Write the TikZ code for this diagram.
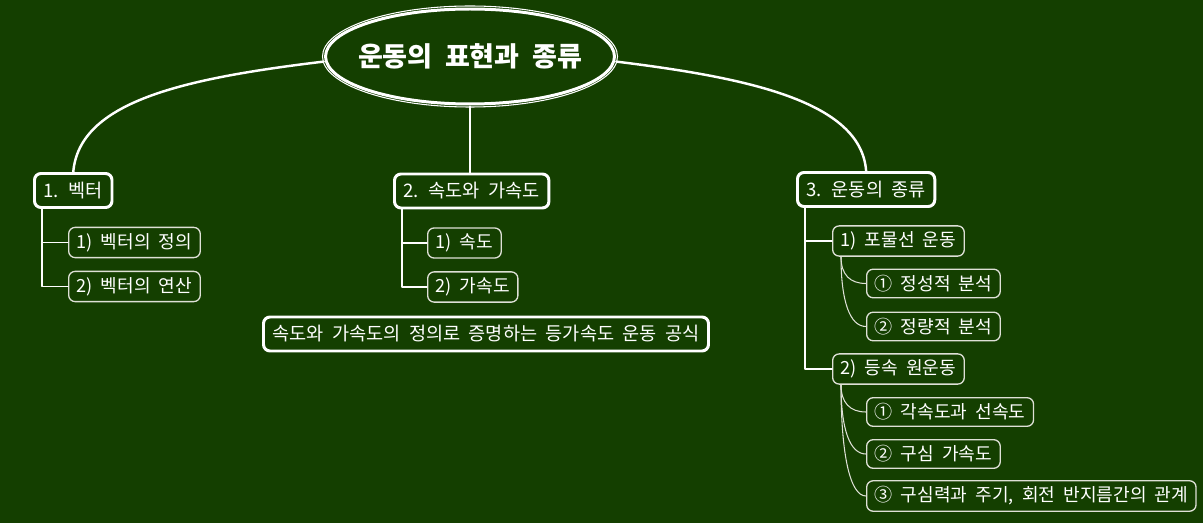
\documentclass[tikz,border=0pt]{standalone}
\usepackage{fontspec}
\newfontfamily\kr[WordSpace=2]{Noto Sans CJK KR}
\usetikzlibrary{shapes.geometric}
\definecolor{board}{RGB}{20,63,0}
\definecolor{chalk}{RGB}{222,224,214}
\begin{document}
\begin{tikzpicture}[x=.02cm,y=-.02cm,line join=round,line cap=round,font=\kr,text=white,
    hub/.style={ellipse,draw=white,line width=1.7pt,minimum width=5.78cm,minimum height=1.9cm,inner sep=0pt,outer sep=1.5pt,font=\kr\fontsize{15.4}{17}\selectfont\bfseries},
    topic/.style={draw=white,line width=1.7pt,rounded corners=.13cm,minimum height=.68cm,inner xsep=.18cm,anchor=west,font=\kr\fontsize{10.6}{12}\selectfont},
    sub/.style={draw=chalk,line width=.75pt,rounded corners=.13cm,minimum height=.52cm,inner xsep=.16cm,anchor=west,font=\kr\fontsize{10.3}{12}\selectfont},
    branch/.style={draw=white,line width=1.4pt},
    twig/.style={draw=white,line width=.8pt},
    vine/.style={draw=chalk,line width=.6pt}]
\fill[board](0,0)rectangle(1203,523);
\node[hub](root)at(470,56.5){\makebox[0pt]{운동의 표현과 종류}};
\draw[white,line width=.6pt](root.center)ellipse[x radius=147.5,y radius=50.5];
\node[topic](t1)at(33,190.5){1. 벡터};
\node[topic](t2)at(393,191){2. 속도와 가속도};
\node[topic](t3)at(796,189.5){3. 운동의 종류};
\node[topic](proof)at(262,334){속도와 가속도의 정의로 증명하는 등가속도 운동 공식};
\node[sub](vdef)at(68,242.5){1) 벡터의 정의};
\node[sub](vop)at(68,286.5){2) 벡터의 연산};
\node[sub](vel)at(427,243){1) 속도};
\node[sub](acc)at(427,287){2) 가속도};
\node[sub](proj)at(832,241){1) 포물선 운동};
\node[sub](circ)at(832,369){2) 등속 원운동};
\node[sub](qual)at(866,283.5){① 정성적 분석};
\node[sub](quant)at(866,326.5){② 정량적 분석};
\node[sub](angv)at(866,412){① 각속도과 선속도};
\node[sub](cent)at(866,454){② 구심 가속도};
\node[sub](force)at(866,496){③ 구심력과 주기, 회전 반지름간의 관계};
\draw[branch](root.182)..controls+(-142,17)and+(6,-70)..(t1.north);
\draw[branch](root.-2)..controls+(130,16)and+(-5,-70)..(t3.north);
\draw[branch](root.south)--(root.south|-t2.north);
\foreach \p/\c in {t1/vdef,t1/vop,t2/vel,t2/acc,t3/proj,t3/circ}
  \draw[twig]([xshift=.18cm]\p.south west)|-(\c.west);
\foreach \p/\c/\h in {proj/qual/18,proj/quant/45,circ/angv/18,circ/cent/45,circ/force/70}
  \draw[vine]([xshift=.18cm]\p.south west)..controls+(0,\h)and+(-16,0)..(\c.west);
\end{tikzpicture}
\end{document}
